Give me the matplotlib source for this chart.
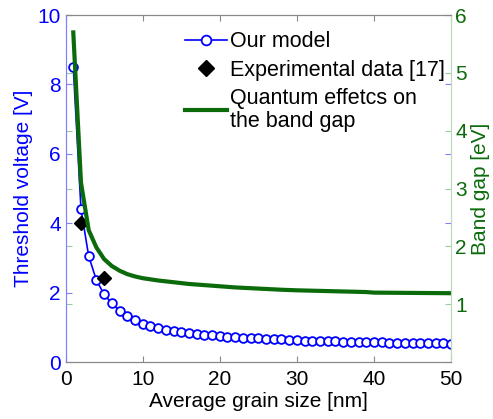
import matplotlib.pyplot as plt
from matplotlib.lines import Line2D

plt.rcParams["font.family"] = ["Liberation Sans", "DejaVu Sans"]

# Our model: threshold voltage vs grain size
grain_size = list(range(1, 51))
vth_model = [8.50, 4.41, 3.05, 2.36, 1.95, 1.69, 1.48, 1.33, 1.21, 1.11,
             1.04, 0.98, 0.93, 0.89, 0.86, 0.83, 0.81, 0.79, 0.77, 0.75,
             0.73, 0.72, 0.70, 0.69, 0.68, 0.67, 0.66, 0.65, 0.64, 0.63,
             0.62, 0.615, 0.61, 0.60, 0.595, 0.59, 0.585, 0.58, 0.575, 0.57,
             0.565, 0.56, 0.555, 0.55, 0.55, 0.545, 0.54, 0.54, 0.535, 0.53]

# Experimental data [17]
exp_size = [2, 5]
exp_vth = [4.01, 2.41]

# Quantum effects on the band gap
bg_size = [1, 2, 3, 4, 5, 6, 7, 8, 9, 10, 12, 14, 16, 18, 20, 22, 25, 28,
           30, 33, 36, 39, 40, 45, 50]
band_gap = [5.70, 3.10, 2.28, 1.98, 1.78, 1.66, 1.58, 1.52, 1.48, 1.45,
            1.41, 1.38, 1.35, 1.33, 1.31, 1.29, 1.27, 1.25, 1.24, 1.23,
            1.22, 1.21, 1.20, 1.195, 1.19]

blue = "#0000ff"
green = "#0b6b0b"

fig = plt.figure(figsize=(4.93, 4.19), dpi=100)
ax1 = fig.add_axes([0.133, 0.136, 0.782, 0.828])
ax2 = ax1.twinx()

ax1.plot(grain_size, vth_model, color=blue, lw=1.2, marker="o", ms=6.3,
         mfc="white", mec=blue, mew=1.3, zorder=2)
ax1.plot(exp_size, exp_vth, ls="none", marker="D", ms=7.5, color="black", zorder=3)
ax2.plot(bg_size, band_gap, color=green, lw=3)

ax1.set_xlim(0, 50)
ax1.set_ylim(0, 10)
ax2.set_ylim(0, 6)
ax1.set_xticks([0, 10, 20, 30, 40, 50])
ax1.set_yticks([0, 2, 4, 6, 8, 10])
ax2.set_yticks([1, 2, 3, 4, 5, 6])

ax1.tick_params(axis="x", direction="in", top=True, labelsize=15, length=4,
                color="#888888", pad=6)
ax1.tick_params(axis="y", direction="in", right=True, labelsize=15, length=4,
                color="#8080ff", labelcolor=blue)
ax2.tick_params(axis="y", direction="in", left=True, labelsize=15, length=4,
                color="#99cc99", labelcolor=green, pad=3)

ax1.set_xlabel("Average grain size [nm]", fontsize=15, labelpad=2)
ax1.set_ylabel("Threshold voltage [V]", fontsize=15, color=blue, labelpad=3)
ax2.set_ylabel("Band gap [eV]", fontsize=15, color=green, labelpad=3)

for ax in (ax1, ax2):
    for s in ax.spines.values():
        s.set_linewidth(0.8)
    ax.spines["bottom"].set_color("#888888")
    ax.spines["top"].set_color("#888888")
    ax.spines["left"].set_color("#8080ff")
    ax.spines["right"].set_color("#b8dcb8")

handles = [
    Line2D([], [], color=blue, lw=1.2, marker="o", ms=7, mfc="white", mec=blue, mew=1.3),
    Line2D([], [], ls="none", marker="D", ms=8, color="black"),
    Line2D([], [], color=green, lw=3),
]
labels = ["Our model", "Experimental data [17]", "Quantum effetcs on\nthe band gap"]
leg = ax2.legend(handles, labels, loc="upper left", bbox_to_anchor=(0.31, 0.953),
                 frameon=False, fontsize=15.5, handlelength=1.95, handletextpad=0.15,
                 labelspacing=0.34, borderaxespad=0, borderpad=0)
for t in leg.get_texts():
    t.set_linespacing(1.1)

fig.savefig("out.png", dpi=100)
